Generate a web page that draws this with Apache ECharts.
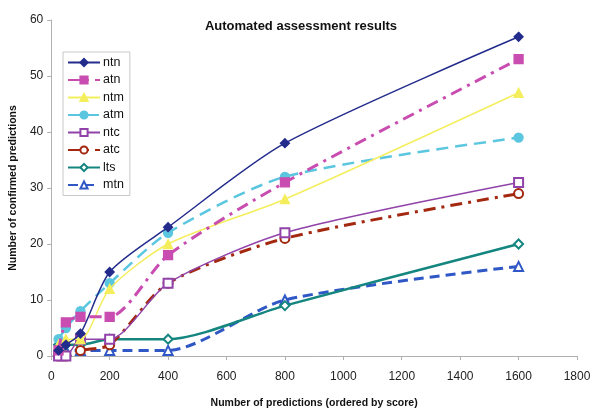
<!DOCTYPE html>
<html>
<head>
<meta charset="utf-8">
<script src="https://cdn.jsdelivr.net/npm/echarts@6/dist/echarts.min.js"></script>
<style>html,body{margin:0;padding:0;background:#fff;}#c{width:602px;height:414px;}</style>
</head>
<body>
<div id="c"></div>
<script>
var xValues = [25, 50, 100, 200, 400, 800, 1600];
var ntn = [1, 2, 4, 15, 23, 38, 57];
var atn = [1, 6, 7, 7, 18, 31, 53];
var ntm = [2, 3, 3, 12, 20, 28, 47];
var atm = [3, 5, 8, 13, 22, 32, 39];
var ntc = [0, 0, 3, 3, 13, 22, 31];
var atc = [0, 0, 1, 2, 13, 21, 29];
var lts = [2, 2, 2, 3, 3, 9, 20];
var mtn = [1, 1, 1, 1, 1, 10, 16];
var seriesNames = ['ntn', 'atn', 'ntm', 'atm', 'ntc', 'atc', 'lts', 'mtn'];
var seriesData = [ntn, atn, ntm, atm, ntc, atc, lts, mtn];

var styles = {
  ntn: {color: '#232c8c', width: 1.5, type: 'solid', symbol: 'diamond', size: 9},
  atn: {color: '#c94db0', width: 3, type: [12, 6, 3, 6], symbol: 'rect', size: 9},
  ntm: {color: '#f4ee5c', width: 1.5, type: 'solid', symbol: 'triangle', size: 9},
  atm: {color: '#5ac6df', width: 2.5, type: [12, 7], symbol: 'circle', size: 9},
  ntc: {color: '#9143a9', width: 1.5, type: 'solid', symbol: 'emptyRect', size: 9},
  atc: {color: '#a3280f', width: 3, type: [12, 6, 3, 6], symbol: 'emptyCircle', size: 9},
  lts: {color: '#14857f', width: 2.5, type: 'solid', symbol: 'emptyDiamond', size: 9},
  mtn: {color: '#2f57c6', width: 3, type: [10, 6], symbol: 'emptyTriangle', size: 9}
};

function pairs(arr) {
  return arr.map(function (v, i) { return [xValues[i], v]; });
}

var series = seriesNames.map(function (n, i) {
  var s = styles[n];
  return {
    name: n,
    type: 'line',
    data: pairs(seriesData[i]),
    smooth: 0.25,
    symbol: s.symbol,
    symbolSize: s.size,
    itemStyle: {color: s.color, borderColor: s.color, borderWidth: 1.3},
    lineStyle: {color: s.color, width: s.width, type: s.type},
    z: 10 - i
  };
});

var chart = echarts.init(document.getElementById('c'), null, {renderer: 'canvas'});
chart.setOption({
  animation: false,
  backgroundColor: '#fff',
  title: {
    text: 'Automated assessment results',
    left: 'center',
    top: 15,
    textStyle: {fontFamily: 'Liberation Sans', fontSize: 13, fontWeight: 'bold', color: '#111'}
  },
  legend: {
    orient: 'vertical',
    left: 63,
    top: 52,
    width: 64,
    padding: [4, 6, 4, 4],
    itemWidth: 32,
    itemHeight: 9,
    itemGap: 4.5,
    backgroundColor: '#fff',
    borderColor: '#c8c8c8',
    borderWidth: 1,
    borderRadius: 0,
    textStyle: {fontFamily: 'Liberation Sans', fontSize: 12.5, color: '#111', padding: [0, 0, 0, -2]},
    data: seriesNames
  },
  grid: {left: 51, right: 25, top: 20, bottom: 58, containLabel: false},
  xAxis: {
    type: 'value',
    min: 0,
    max: 1800,
    interval: 200,
    name: 'Number of predictions (ordered by score)',
    nameLocation: 'middle',
    nameGap: 42,
    nameTextStyle: {fontFamily: 'Liberation Sans', fontSize: 10.5, fontWeight: 'bold', color: '#111'},
    axisLine: {lineStyle: {color: '#b0b0b0', width: 1}},
    axisTick: {show: true, inside: false, length: 4, lineStyle: {color: '#b0b0b0'}},
    axisLabel: {fontFamily: 'Liberation Sans', fontSize: 12, color: '#222', margin: 15,
      formatter: function (v) { return String(v); }},
    splitLine: {show: false}
  },
  yAxis: {
    type: 'value',
    min: 0,
    max: 60,
    interval: 10,
    name: 'Number of confirmed predictions',
    nameLocation: 'middle',
    nameGap: 28,
    nameTextStyle: {fontFamily: 'Liberation Sans', fontSize: 10.5, fontWeight: 'bold', color: '#111'},
    axisLine: {show: true, lineStyle: {color: '#b0b0b0', width: 1}},
    axisTick: {show: true, inside: false, length: 4, lineStyle: {color: '#b0b0b0'}},
    axisLabel: {fontFamily: 'Liberation Sans', fontSize: 12, color: '#222', margin: 8},
    splitLine: {show: false}
  },
  series: series
});
</script>
</body>
</html>
